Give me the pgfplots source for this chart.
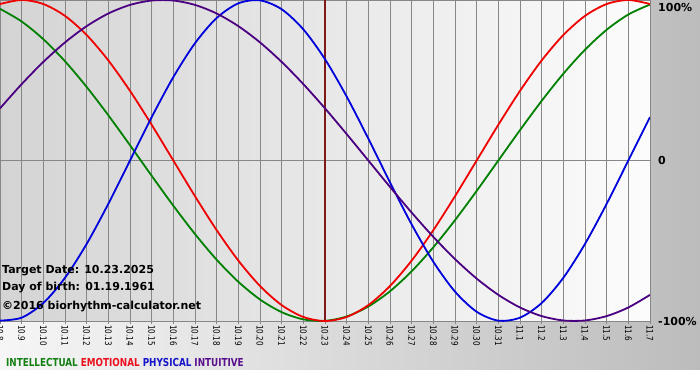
\documentclass[border=0pt]{standalone}
\usepackage{fontspec}
\setmainfont{DejaVu Sans}
\newfontfamily\narrowfont[FakeStretch=0.8]{DejaVu Sans}
\usepackage{pgfplots}
\usepackage{pgfplotstable}
\pgfplotsset{compat=1.18}
\definecolor{cgreen}{RGB}{0,128,0}
\definecolor{cred}{RGB}{240,0,0}
\definecolor{cblue}{RGB}{0,0,220}
\definecolor{cpurple}{RGB}{75,0,130}
\definecolor{ltgreen}{RGB}{20,128,20}
\definecolor{ltred}{RGB}{235,16,30}
\definecolor{ltblue}{RGB}{20,20,200}
\definecolor{ltpurple}{RGB}{90,16,140}
\definecolor{target}{RGB}{125,25,25}
\definecolor{gridc}{RGB}{135,135,135}
\definecolor{bgL}{RGB}{246,246,246}
\definecolor{bgR}{RGB}{188,188,188}
\definecolor{plL}{RGB}{212,212,212}
\definecolor{plR}{RGB}{252,252,252}
\pgfplotstableread{
d int emo phy intu
0 0.9450 0.9749 -0.9977 0.3247
1 0.8660 1.0000 -0.9791 0.4759
2 0.7557 0.9749 -0.8879 0.6142
3 0.6182 0.9010 -0.7308 0.7357
4 0.4582 0.7818 -0.5196 0.8372
5 0.2817 0.6235 -0.2698 0.9158
6 0.0951 0.4339 0.0000 0.9694
7 -0.0951 0.2225 0.2698 0.9966
8 -0.2817 0.0000 0.5196 0.9966
9 -0.4582 -0.2225 0.7308 0.9694
10 -0.6182 -0.4339 0.8879 0.9158
11 -0.7557 -0.6235 0.9791 0.8372
12 -0.8660 -0.7818 0.9977 0.7357
13 -0.9450 -0.9010 0.9423 0.6142
14 -0.9898 -0.9749 0.8170 0.4759
15 -0.9989 -1.0000 0.6311 0.3247
16 -0.9718 -0.9749 0.3984 0.1646
17 -0.9096 -0.9010 0.1362 0.0000
18 -0.8146 -0.7818 -0.1362 -0.1646
19 -0.6901 -0.6235 -0.3984 -0.3247
20 -0.5406 -0.4339 -0.6311 -0.4759
21 -0.3717 -0.2225 -0.8170 -0.6142
22 -0.1893 0.0000 -0.9423 -0.7357
23 0.0000 0.2225 -0.9977 -0.8372
24 0.1893 0.4339 -0.9791 -0.9158
25 0.3717 0.6235 -0.8879 -0.9694
26 0.5406 0.7818 -0.7308 -0.9966
27 0.6901 0.9010 -0.5196 -0.9966
28 0.8146 0.9749 -0.2698 -0.9694
29 0.9096 1.0000 0.0000 -0.9158
30 0.9718 0.9749 0.2698 -0.8372
}\bio
\begin{document}
\begin{tikzpicture}[x=1pt,y=1pt]
\useasboundingbox (0,-59) rectangle (700,321);
\clip (0,-59) rectangle (700,321);
\fill[white] (0,-59) rectangle (700,321);
\shade[left color=bgL, right color=bgR] (0,-48) rectangle (700,321);
\begin{axis}[
  at={(0,0)}, anchor=south west,
  scale only axis, width=650pt, height=321pt,
  xmin=0, xmax=30, ymin=-1, ymax=1,
  axis background/.style={shade, left color=plL, right color=plR},
  axis line style={draw=gridc},
  xtick={0,...,30},
  xticklabels={10.8,10.9,10.10,10.11,10.12,10.13,10.14,10.15,10.16,10.17,10.18,10.19,10.20,10.21,10.22,10.23,10.24,10.25,10.26,10.27,10.28,10.29,10.30,10.31,11.1,11.2,11.3,11.4,11.5,11.6,11.7},
  xtick pos=bottom, tick align=outside, major tick length=3pt,
  xtick style={draw=gridc, line width=0.8pt},
  xticklabel style={rotate=-90, anchor=west, inner sep=1pt, font=\narrowfont\fontsize{9}{10}\selectfont},
  xmajorgrids, ymajorgrids,
  grid style={draw=gridc, line width=0.8pt},
  ytick={-1,0},
  yticklabels={-100\%,0},
  extra y ticks={1}, extra y tick labels={100\%},
  extra y tick style={yticklabel style={yshift=-7pt}},
  yticklabel pos=right, ytick pos=right,
  ytick style={draw=none},
  yticklabel style={anchor=west, inner sep=1pt, xshift=4pt, font=\bfseries\fontsize{11}{12}\selectfont},
  /pgf/number format/assume math mode=true,
]
\draw[target, line width=2.2pt] (axis cs:15,-1) -- (axis cs:15,1);
\addplot[cgreen, line width=1.8pt, smooth] table[x=d, y=int] {\bio};
\addplot[cred, line width=1.8pt, smooth] table[x=d, y=emo] {\bio};
\addplot[cblue, line width=1.8pt, smooth] table[x=d, y=phy] {\bio};
\addplot[cpurple, line width=1.8pt, smooth] table[x=d, y=intu] {\bio};
\end{axis}
\begin{scope}[every node/.style={anchor=west, inner sep=0pt, font=\bfseries\fontsize{11}{12}\selectfont}]
\node at (2,50) {Target Date: 10.23.2025};
\node at (2,33) {Day of birth: 01.19.1961};
\node at (2,14) {©2016 biorhythm-calculator.net};
\end{scope}
\node[anchor=west, inner sep=0pt, font=\narrowfont\bfseries\fontsize{11}{12}\selectfont] at (6,-41)
  {\textcolor{ltgreen}{INTELLECTUAL} \textcolor{ltred}{EMOTIONAL} \textcolor{ltblue}{PHYSICAL} \textcolor{ltpurple}{INTUITIVE}};
\end{tikzpicture}
\end{document}
